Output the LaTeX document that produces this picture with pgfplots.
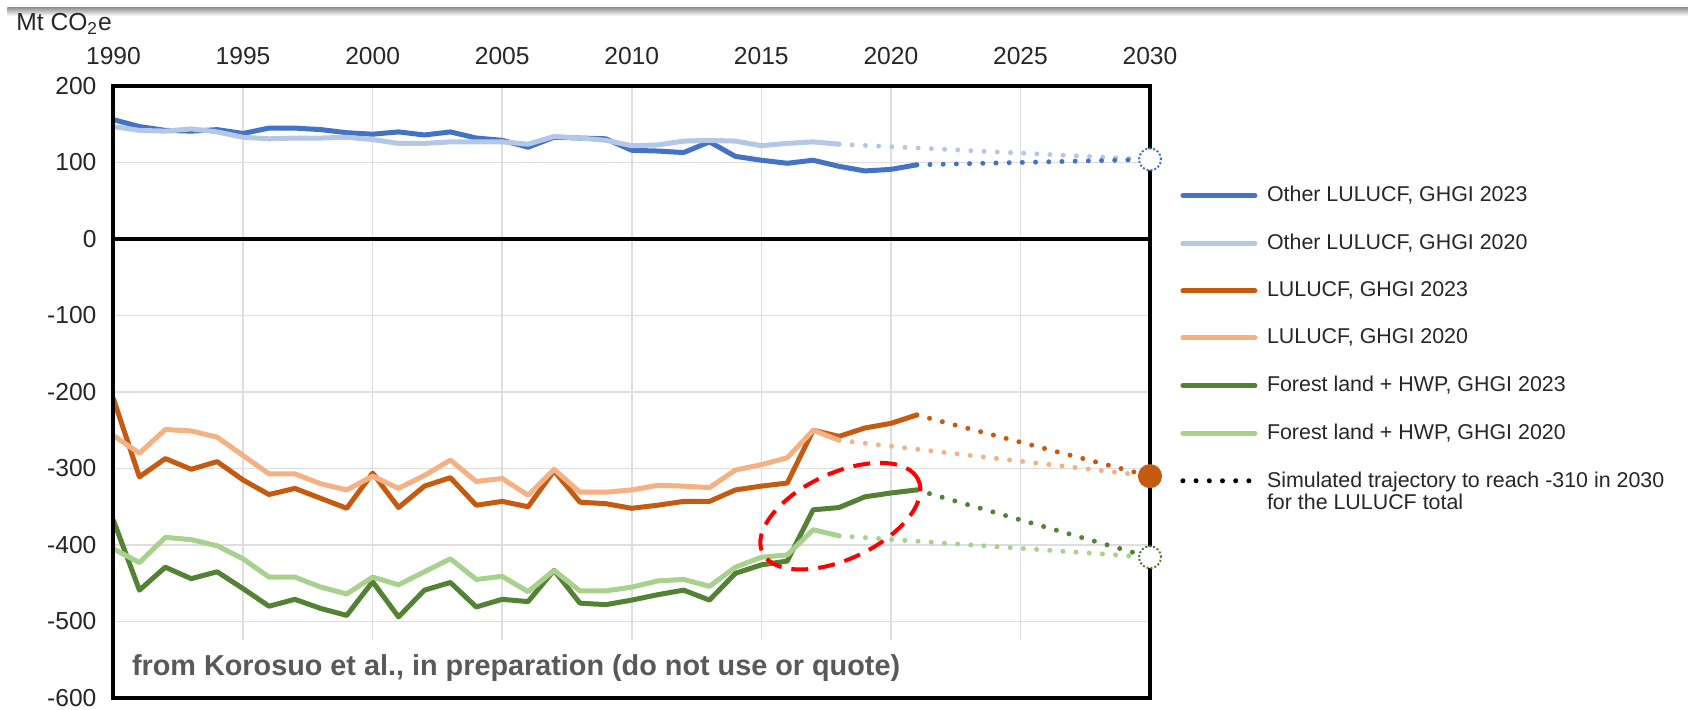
\documentclass[border=0pt]{standalone}
\usepackage{fontspec}
\setmainfont{Liberation Sans}
\usepackage{pgfplots}
\usepackage{pgfplotstable}
\pgfplotsset{compat=1.18}
\usetikzlibrary{calc}

\definecolor{cBlueD}{HTML}{4472C4}
\definecolor{cBlueL}{HTML}{B4C7E7}
\definecolor{cOrD}{HTML}{C55A11}
\definecolor{cOrL}{HTML}{F4B183}
\definecolor{cGrD}{HTML}{548235}
\definecolor{cGrL}{HTML}{A9D18E}
\definecolor{cNote}{HTML}{595959}

\pgfplotstableread{
year v
1990 156
1991 147
1992 142
1993 141
1994 143
1995 138
1996 145
1997 145
1998 143
1999 139
2000 137
2001 140
2002 136
2003 140
2004 132
2005 129
2006 120
2007 133
2008 132
2009 131
2010 116
2011 115
2012 113
2013 127
2014 108
2015 103
2016 99
2017 103
2018 95
2019 89
2020 91
2021 97
}\otherNew

\pgfplotstableread{
year v
1990 147
1991 142
1992 141
1993 144
1994 140
1995 133
1996 131
1997 132
1998 132
1999 133
2000 130
2001 125
2002 125
2003 127
2004 127
2005 127
2006 124
2007 134
2008 132
2009 129
2010 122
2011 123
2012 128
2013 129
2014 128
2015 122
2016 125
2017 127
2018 124
}\otherOld

\pgfplotstableread{
year v
1990 -209
1991 -311
1992 -287
1993 -301
1994 -291
1995 -315
1996 -334
1997 -326
1998 -339
1999 -352
2000 -306
2001 -351
2002 -323
2003 -312
2004 -348
2005 -343
2006 -350
2007 -303
2008 -344
2009 -346
2010 -352
2011 -348
2012 -343
2013 -343
2014 -328
2015 -323
2016 -319
2017 -250
2018 -258
2019 -247
2020 -241
2021 -230
}\lulucfNew

\pgfplotstableread{
year v
1990 -257
1991 -280
1992 -249
1993 -251
1994 -259
1995 -283
1996 -307
1997 -307
1998 -320
1999 -328
2000 -310
2001 -326
2002 -309
2003 -289
2004 -317
2005 -313
2006 -335
2007 -301
2008 -331
2009 -331
2010 -328
2011 -322
2012 -323
2013 -325
2014 -302
2015 -295
2016 -286
2017 -250
2018 -263
}\lulucfOld

\pgfplotstableread{
year v
1990 -368
1991 -459
1992 -429
1993 -444
1994 -435
1995 -457
1996 -480
1997 -471
1998 -483
1999 -492
2000 -448
2001 -494
2002 -459
2003 -449
2004 -481
2005 -471
2006 -474
2007 -433
2008 -476
2009 -478
2010 -472
2011 -465
2012 -459
2013 -472
2014 -437
2015 -426
2016 -421
2017 -354
2018 -351
2019 -337
2020 -332
2021 -328
}\forestNew

\pgfplotstableread{
year v
1990 -405
1991 -423
1992 -390
1993 -393
1994 -401
1995 -418
1996 -442
1997 -442
1998 -455
1999 -464
2000 -442
2001 -452
2002 -435
2003 -418
2004 -445
2005 -441
2006 -461
2007 -433
2008 -460
2009 -460
2010 -455
2011 -447
2012 -445
2013 -454
2014 -429
2015 -416
2016 -413
2017 -380
2018 -388
}\forestOld

\tikzset{
  solidser/.style={line width=2.5pt, line join=round, line cap=round},
  dotser/.style={line width=2.5pt, line cap=round, dash pattern=on 0pt off 6.6pt},
}

\begin{document}
\begin{tikzpicture}
\begin{axis}[
  width=518.25pt, height=306pt, scale only axis,
  xmin=1990, xmax=2030, ymin=-600, ymax=200,
  xtick={1990,1995,...,2030},
  ytick={-600,-500,...,200},
  xticklabel pos=upper,
  major tick length=0pt,
  tick style={draw=none},
  grid=major,
  major grid style={draw=black!13, line width=0.8pt},
  axis line style={draw=none},
  clip=false,
  /pgf/number format/assume math mode=true,
  ticklabel style={font=\fontsize{12.3}{14}\selectfont, text=black!85},
  xticklabel style={/pgf/number format/1000 sep={}, yshift=7pt},
  yticklabel style={xshift=-5pt},
  legend cell align=left,
  legend image code/.code={\draw[#1] (0pt,0pt) -- (36pt,0pt); \path (38.8pt,0pt);},
  legend style={at={(1,1)}, anchor=north west, xshift=15pt, yshift=-48pt,
    draw=none, fill=none, inner sep=0pt, row sep=10.6pt,
    font=\fontsize{10.7}{11}\selectfont, text=black!85,
    cells={align=left}},
]
\coordinate (O) at (rel axis cs:0,0);
\fill[white] (axis cs:1990,-600) rectangle (axis cs:2030,-524);

\addplot[solidser, cBlueD] table[x=year,y=v] {\otherNew};
\addlegendentry{Other LULUCF, GHGI 2023}
\addplot[solidser, cBlueL] table[x=year,y=v] {\otherOld};
\addlegendentry{Other LULUCF, GHGI 2020}
\addplot[solidser, cOrD] table[x=year,y=v] {\lulucfNew};
\addlegendentry{LULUCF, GHGI 2023}
\addplot[solidser, cOrL] table[x=year,y=v] {\lulucfOld};
\addlegendentry{LULUCF, GHGI 2020}
\addplot[solidser, cGrD] table[x=year,y=v] {\forestNew};
\addlegendentry{Forest land + HWP, GHGI 2023}
\addplot[solidser, cGrL] table[x=year,y=v] {\forestOld};
\addlegendentry{Forest land + HWP, GHGI 2020}

% simulated trajectories
\addplot[dotser, cBlueL, forget plot] coordinates {(2018,124) (2030,104)};
\addplot[dotser, cBlueD, forget plot] coordinates {(2021,97) (2030,104)};
\addplot[dotser, cOrL, forget plot] coordinates {(2018,-263) (2030,-310)};
\addplot[dotser, cOrD, forget plot] coordinates {(2021,-230) (2030,-310)};
\addplot[dotser, cGrL, forget plot] coordinates {(2018,-388) (2030,-416)};
\addplot[dotser, cGrD, forget plot] coordinates {(2021,-328) (2030,-416)};

\addlegendimage{dotser, black}
\addlegendentry{\parbox[t]{200pt}{Simulated trajectory to reach -310 in 2030\\for the LULUCF total}}

% red dashed ellipse
\draw[red, line width=2pt, dash pattern=on 8.5pt off 5pt,
  rotate around={25:(axis cs:2018.05,-362.3)}]
  (axis cs:2018.05,-362.3) ellipse [x radius=43pt, y radius=21.5pt];

% frame and zero line
\draw[line width=2pt, black] (rel axis cs:0,0) rectangle (rel axis cs:1,1);
\draw[line width=2pt, black] (axis cs:1990,0) -- (axis cs:2030,0);

% 2030 targets
\addplot[only marks, mark=*, mark size=5.5pt, forget plot,
  mark options={fill=white, draw=cBlueD, line width=1pt, densely dotted}]
  coordinates {(2030,104)};
\addplot[only marks, mark=*, mark size=5.8pt, forget plot,
  mark options={fill=cOrD, draw=cOrD}]
  coordinates {(2030,-310)};
\addplot[only marks, mark=*, mark size=5.5pt, forget plot,
  mark options={fill=white, draw=cGrD, line width=1pt, densely dotted}]
  coordinates {(2030,-416)};

\node[anchor=base west, inner sep=0pt, text=cNote,
  font=\bfseries\fontsize{14.4}{16}\selectfont]
  at ([xshift=9.1pt, yshift=11.5pt]rel axis cs:0,0)
  {from Korosuo et al., in preparation (do not use or quote)};
\end{axis}
\pgfresetboundingbox
\path[use as bounding box] ($(O)+(-56.75pt,-5.5pt)$) rectangle ++(844pt,354.5pt);
\shade[top color=black!40, bottom color=white] ($(O)+(-53pt,341pt)$) rectangle ($(O)+(790pt,345pt)$);
\node[anchor=west, inner sep=0pt, text=black!85, font=\fontsize{12.3}{14}\selectfont]
  at ($(O)+(-48.75pt,337pt)$) {Mt CO\textsubscript{2}e};
\end{tikzpicture}
\end{document}
